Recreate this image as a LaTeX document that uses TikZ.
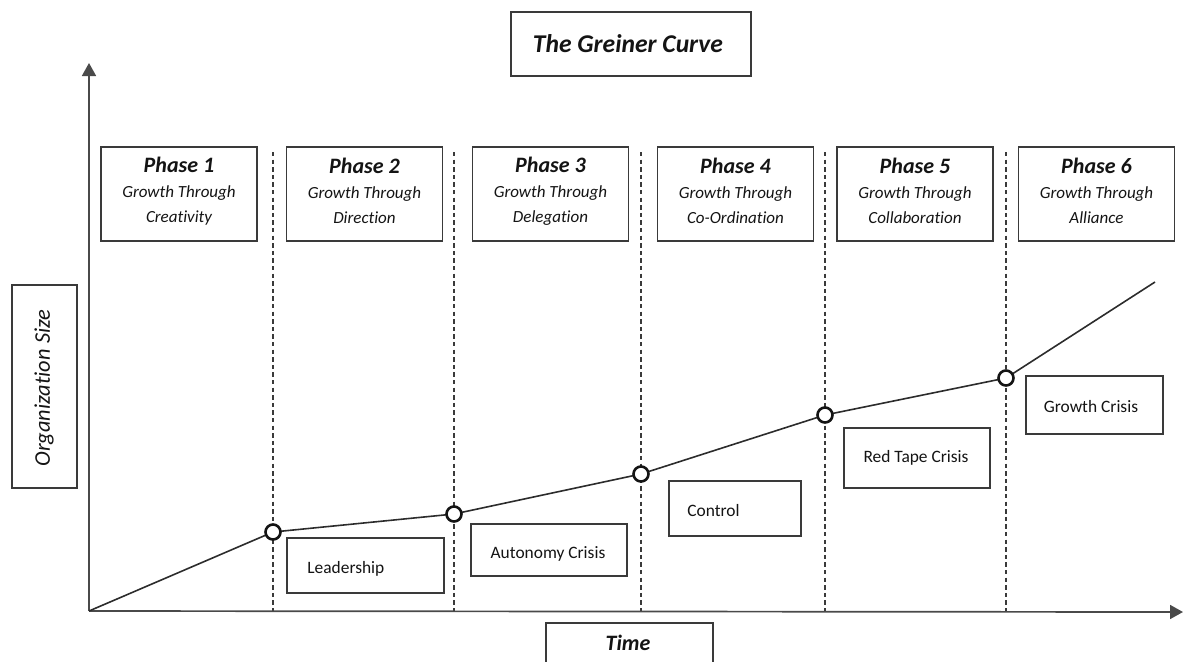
\documentclass[tikz,border=0pt]{standalone}
\usepackage{fontspec}
\setmainfont{Carlito}[Ligatures=NoCommon]
\usetikzlibrary{arrows.meta}
\definecolor{linegray}{HTML}{3A3A3A}
\definecolor{axisgray}{HTML}{4A4A4A}
\definecolor{inkblack}{HTML}{141414}
\tikzset{
  sz/.style 2 args={minimum width=#1*0.5pt, minimum height=#2*0.5pt},
  frame/.style={draw=linegray, line width=0.85pt, fill=white, inner sep=0pt},
  txt/.style={text=inkblack, inner sep=0pt},
  titlefont/.style={txt, font=\fontsize{12.8}{15}\selectfont\bfseries\itshape},
  phasetext/.style={txt, align=center, font=\fontsize{8.5}{11.5}\selectfont\itshape},
  crisistext/.style={txt, font=\fontsize{8.7}{10}\selectfont},
  axislabel/.style={txt, font=\fontsize{11.2}{13}\selectfont\itshape},
  axis/.style={draw=axisgray, line width=0.85pt, -{Triangle[length=6.5pt,width=7pt]}},
  guide/.style={draw=linegray, line width=1.2pt, dash pattern=on 2.2pt off 1.6pt},
  curve/.style={draw=inkblack!90, line width=0.8pt},
  knot/.style={circle, draw=inkblack, line width=1.3pt, fill=white, minimum size=7.5pt, inner sep=0pt}
}
\begin{document}
\begin{tikzpicture}[x=0.5pt,y=-0.5pt]
\useasboundingbox (0,0) rectangle (1184,661);
\clip (0,0) rectangle (1184,661);

% title
\node[frame, sz={240}{64}] (titlebox) at (631,44) {};
\node[titlefont] (title) at (628,44) {The Greiner Curve};

% axes
\coordinate (O) at (89,611);
\coordinate (ytip) at (89,63);
\coordinate (xtip) at (1183,612);

% phase boundaries and turning points of the curve
\coordinate (k1) at (273,532);
\coordinate (k2) at (454,514);
\coordinate (k3) at (641,474);
\coordinate (k4) at (825,415);
\coordinate (k5) at (1006,378);
\coordinate (kend) at (1155,282);

\foreach \k in {k1,k2,k3,k4,k5}
  \draw[guide] (\k |- 0,152) -- (\k |- O);

\draw[axis] (O) -- (ytip);
\draw[axis] (O) -- (xtip);

% axis labels
\node[frame, sz={65}{203}] (sizebox) at (44.5,386.5) {};
\node[axislabel, rotate=90] (sizelabel) at (44,388) {Organization Size};
\node[frame, sz={167}{64}] (timebox) at (629.5,655) {};
\node[titlefont, font=\fontsize{11}{13}\selectfont\bfseries\itshape] (timelabel) at (628,643) {Time};

% phases
\foreach \n/\cx/\what in {1/179/Creativity, 2/364.5/Direction, 3/550.5/Delegation,
                          4/735.5/Co-Ordination, 5/915/Collaboration, 6/1096.5/Alliance}{
  \node[frame, sz={156}{94}] (phasebox\n) at (\cx,194) {};
  \node[phasetext] (phase\n) at (\cx,191)
    {{\fontsize{11}{11}\selectfont\bfseries\itshape Phase \n}\\[1pt]Growth Through\\[1pt]\what};
}

% the growth curve
\draw[curve] (O) -- (k1) -- (k2) -- (k3) -- (k4) -- (k5) -- (kend);
\foreach \k in {k1,k2,k3,k4,k5}
  \node[knot] (\k c) at (\k) {};

% crises
\node[frame, sz={157}{55}] (leadbox) at (365.5,565.5) {};
\node[crisistext, anchor=west] (lead) at (307,569) {Leadership};
\node[frame, sz={156}{52}] (autobox) at (549,550) {};
\node[crisistext] (auto) at (548,554) {Autonomy Crisis};
\node[frame, sz={132}{55}] (ctrlbox) at (735,508.5) {};
\node[crisistext, anchor=west] (ctrl) at (687,511) {Control};
\node[frame, sz={146}{60}] (redbox) at (917,458) {};
\node[crisistext] (red) at (916,458) {Red Tape Crisis};
\node[frame, sz={137}{58}] (growbox) at (1094.5,405) {};
\node[crisistext] (grow) at (1091,407) {Growth Crisis};
\end{tikzpicture}
\end{document}
